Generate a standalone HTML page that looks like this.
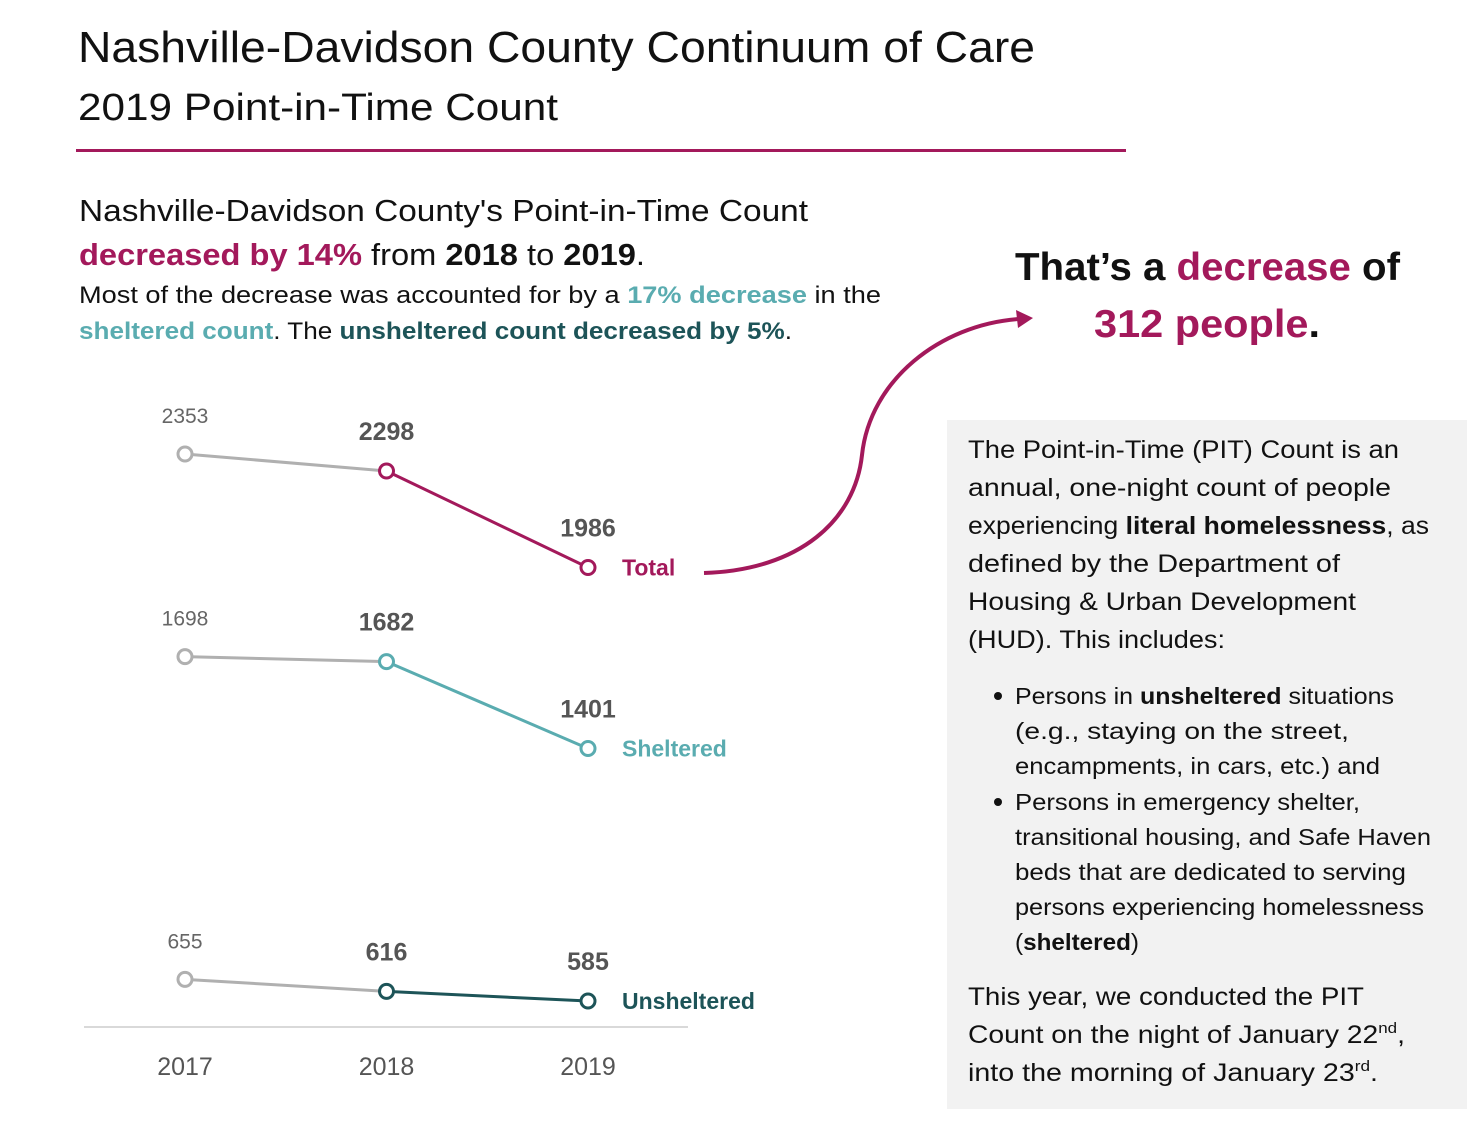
<!DOCTYPE html>
<html><head><meta charset="utf-8"><style>
html,body{margin:0;padding:0;background:#fff;}
svg{display:block;font-family:"Liberation Sans",sans-serif;}
</style></head><body>
<svg width="1467" height="1121" viewBox="0 0 1467 1121">
<g>
<text x="78" y="62" font-size="44" fill="#111" textLength="957" lengthAdjust="spacingAndGlyphs">Nashville-Davidson County Continuum of Care</text>
<text x="78" y="120" font-size="38" fill="#111" textLength="480" lengthAdjust="spacingAndGlyphs">2019 Point-in-Time Count</text>
<rect x="76" y="149" width="1050" height="3" fill="#a3195b"/>
</g>
<g>
<text x="79" y="221" font-size="31" fill="#111" textLength="729" lengthAdjust="spacingAndGlyphs">Nashville-Davidson County's Point-in-Time Count</text>
<text x="79" y="265" font-size="31" fill="#111" textLength="566" lengthAdjust="spacingAndGlyphs"><tspan fill="#a3195b" font-weight="bold">decreased by 14%</tspan> from <tspan font-weight="bold">2018</tspan> to <tspan font-weight="bold">2019</tspan>.</text>
<text x="79" y="303" font-size="24" fill="#111" textLength="802" lengthAdjust="spacingAndGlyphs">Most of the decrease was accounted for by a <tspan fill="#5aacb0" font-weight="bold">17% decrease</tspan> in the</text>
<text x="79" y="339" font-size="24" fill="#111" textLength="713" lengthAdjust="spacingAndGlyphs"><tspan fill="#5aacb0" font-weight="bold">sheltered count</tspan>. The <tspan fill="#1d5458" font-weight="bold">unsheltered count decreased by 5%</tspan>.</text>
</g>
<g>
<text x="1015" y="280" font-size="39" font-weight="bold" fill="#111" textLength="385" lengthAdjust="spacingAndGlyphs">That’s a <tspan fill="#a3195b">decrease</tspan> of</text>
<text x="1094" y="337" font-size="39" font-weight="bold" fill="#a3195b" textLength="226" lengthAdjust="spacingAndGlyphs">312 people<tspan fill="#111">.</tspan></text>
<path d="M704,573 C800,570 855,520 862,455 C870,380 940,325 1018,319" fill="none" stroke="#a3195b" stroke-width="4"/>
<polygon points="1033,318 1016,310 1018,328" fill="#a3195b"/>
</g>
<g>
<rect x="947" y="420" width="520" height="689" fill="#f2f2f2"/>
<g font-size="25" fill="#111">
<text x="968" y="458" textLength="431" lengthAdjust="spacingAndGlyphs">The Point-in-Time (PIT) Count is an</text>
<text x="968" y="496" textLength="423" lengthAdjust="spacingAndGlyphs">annual, one-night count of people</text>
<text x="968" y="534" textLength="461" lengthAdjust="spacingAndGlyphs">experiencing <tspan font-weight="bold">literal homelessness</tspan>, as</text>
<text x="968" y="572" textLength="372" lengthAdjust="spacingAndGlyphs">defined by the Department of</text>
<text x="968" y="610" textLength="388" lengthAdjust="spacingAndGlyphs">Housing &amp; Urban Development</text>
<text x="968" y="648" textLength="257" lengthAdjust="spacingAndGlyphs">(HUD). This includes:</text>
</g>
<g font-size="23" fill="#111">
<circle cx="998" cy="696" r="4" fill="#111"/>
<text x="1015" y="704" textLength="379" lengthAdjust="spacingAndGlyphs">Persons in <tspan font-weight="bold">unsheltered</tspan> situations</text>
<text x="1015" y="739" textLength="334" lengthAdjust="spacingAndGlyphs">(e.g., staying on the street,</text>
<text x="1015" y="774" textLength="365" lengthAdjust="spacingAndGlyphs">encampments, in cars, etc.) and</text>
<circle cx="998" cy="802" r="4" fill="#111"/>
<text x="1015" y="810" textLength="345" lengthAdjust="spacingAndGlyphs">Persons in emergency shelter,</text>
<text x="1015" y="845" textLength="416" lengthAdjust="spacingAndGlyphs">transitional housing, and Safe Haven</text>
<text x="1015" y="880" textLength="391" lengthAdjust="spacingAndGlyphs">beds that are dedicated to serving</text>
<text x="1015" y="915" textLength="409" lengthAdjust="spacingAndGlyphs">persons experiencing homelessness</text>
<text x="1015" y="950" textLength="124" lengthAdjust="spacingAndGlyphs">(<tspan font-weight="bold">sheltered</tspan>)</text>
</g>
<g font-size="25" fill="#111">
<text x="968" y="1005" textLength="396" lengthAdjust="spacingAndGlyphs">This year, we conducted the PIT</text>
<text x="968" y="1043" textLength="437" lengthAdjust="spacingAndGlyphs">Count on the night of January 22<tspan font-size="15" dy="-10">nd</tspan><tspan dy="10">,</tspan></text>
<text x="968" y="1081" textLength="410" lengthAdjust="spacingAndGlyphs">into the morning of January 23<tspan font-size="15" dy="-10">rd</tspan><tspan dy="10">.</tspan></text>
</g>
</g>
<g id="chart"></g>
</svg>
<script>
const years = ["2017", "2018", "2019"];
const seriesNames = ["Total", "Sheltered", "Unsheltered"];
const totalValues = [2353, 2298, 1986];
const shelteredValues = [1698, 1682, 1401];
const unshelteredValues = [655, 616, 585];
const seriesColors = ["#a3195b", "#5aacb0", "#1d5458"];

const NS = "http://www.w3.org/2000/svg";
const chart = document.getElementById("chart");
function xScale(i){ return 185 + i * 201.5; }
function yScale(v){ return 1182 - v * 0.3094; }
function mk(tag, attrs){ const e = document.createElementNS(NS, tag); for (const k in attrs) e.setAttribute(k, attrs[k]); chart.appendChild(e); return e; }

const axis = mk("line", {x1:84, x2:688, y1:1027, y2:1027, stroke:"#d9d9d9", "stroke-width":2});


years.forEach((y, i) => {
  const t = mk("text", {x:xScale(i), y:1075, "text-anchor":"middle", "font-size":25, fill:"#555"});
  
  
  t.textContent = y;
});

const allSeries = [totalValues, shelteredValues, unshelteredValues];
allSeries.forEach((vals, s) => {
  const col = seriesColors[s];
  const seg1 = mk("line", {x1:xScale(0), y1:yScale(vals[0]), x2:xScale(1), y2:yScale(vals[1]), stroke:"#b0b0b0", "stroke-width":3});
  
  
  const seg2 = mk("line", {x1:xScale(1), y1:yScale(vals[1]), x2:xScale(2), y2:yScale(vals[2]), stroke:col, "stroke-width":3});
  
  
  vals.forEach((v, i) => {
    const c = mk("circle", {cx:xScale(i), cy:yScale(v), r:7, fill:"#fff", stroke: i === 0 ? "#b0b0b0" : col, "stroke-width":3});
    
    
    const t = mk("text", {x:xScale(i), y:yScale(v) - 31, "text-anchor":"middle", "font-size": i === 0 ? 21 : 25, "font-weight": i === 0 ? "normal" : "bold", fill: i === 0 ? "#666" : "#555"});
    
    
    t.textContent = v;
  });
  const lab = mk("text", {x:622, y:yScale(vals[2]) + 8, "font-size":23, "font-weight":"bold", fill:col});
  
  
  lab.textContent = seriesNames[s];
});
</script>
</body></html>
